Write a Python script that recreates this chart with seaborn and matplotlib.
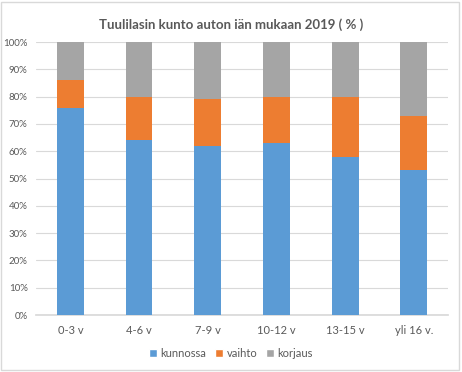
import numpy as np
import pandas as pd
import matplotlib
matplotlib.use("Agg")
import matplotlib.pyplot as plt
from matplotlib.patches import Patch, Rectangle
import seaborn as sns

# -------------------------------
# Data
# -------------------------------
ages = ["0-3 v", "4-6 v", "7-9 v", "10-12 v", "13-15 v", "yli 16 v."]
kunnossa = [76, 64, 62, 63, 58, 53]
vaihto = [10, 16, 17, 17, 22, 20]
korjaus = [14, 20, 21, 20, 20, 27]

series_names = ["kunnossa", "vaihto", "korjaus"]
colors = ["#5B9BD5", "#ED7D31", "#A5A5A5"]

df = pd.DataFrame({"ika": ages, "kunnossa": kunnossa,
                   "vaihto": vaihto, "korjaus": korjaus})
# cumulative tops for stacking
df["top_kunnossa"] = df["kunnossa"]
df["top_vaihto"] = df["kunnossa"] + df["vaihto"]
df["top_korjaus"] = df["top_vaihto"] + df["korjaus"]

# -------------------------------
# Plot
# -------------------------------
sns.set_theme(style="white")
plt.rcParams["font.family"] = ["Lato", "DejaVu Sans"]

fig = plt.figure(figsize=(4.62, 3.72), dpi=100)
ax = fig.add_axes([0.078, 0.153, 0.892, 0.734])

# draw tallest first so the lower segments sit on top
for name, col in zip(reversed(series_names), reversed(colors)):
    sns.barplot(data=df, x="ika", y="top_" + name, color=col,
                width=0.39, ax=ax, saturation=1, zorder=3, linewidth=0)

ax.set_ylim(0, 100)
ax.set_yticks(np.arange(0, 101, 10))
ax.set_yticklabels([f"{t}%" for t in range(0, 101, 10)])
ax.set_xlabel("")
ax.set_ylabel("")
ax.grid(axis="y", color="#D9D9D9", linewidth=0.8, zorder=0)
for s in ["top", "left", "right"]:
    ax.spines[s].set_visible(False)
ax.spines["bottom"].set_color("#D9D9D9")
ax.tick_params(axis="both", length=0, labelsize=7, colors="#595959", pad=6)
ax.tick_params(axis="x", labelsize=8, pad=7)

fig.text(0.5, 0.935, "Tuulilasin kunto auton iän mukaan 2019 ( % )",
         ha="center", va="center", fontsize=9.5, fontweight="bold",
         color="#595959")

handles = [Patch(facecolor=c, label=n) for n, c in zip(series_names, colors)]
fig.legend(handles=handles, loc="center", bbox_to_anchor=(0.5, 0.05),
           ncol=3, frameon=False, fontsize=8, handlelength=0.7,
           handleheight=0.7, handletextpad=0.3, columnspacing=0.8,
           labelcolor="#595959")

fig.patches.append(Rectangle((0.002, 0.005), 0.992, 0.99,
                             transform=fig.transFigure, fill=False,
                             edgecolor="#D9D9D9", linewidth=1))

fig.savefig("out.png", dpi=100)
